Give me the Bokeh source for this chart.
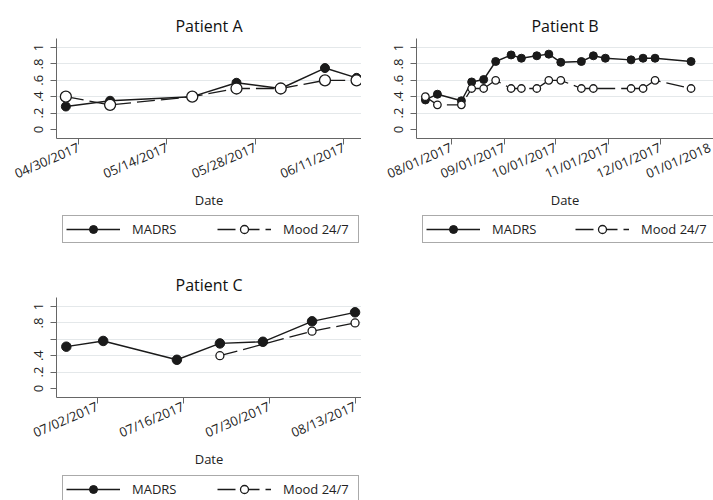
import pandas as pd
from bokeh.plotting import figure
from bokeh.models import (Range1d, FixedTicker, DatetimeTickFormatter, Legend,
                          LegendItem, ColumnDataSource)
from bokeh.layouts import column, row
from bokeh.embed import file_html
from bokeh.resources import INLINE

FONT = "Open Sans"
INK = "#1a1a1a"

# ---------------- data ----------------
# Patient A
a_madrs_dates = ["2017-04-28", "2017-05-05", "2017-05-18", "2017-05-25",
                 "2017-06-01", "2017-06-08", "2017-06-13"]
a_madrs = [0.28, 0.35, 0.40, 0.57, 0.50, 0.75, 0.63]
a_mood_dates = ["2017-04-28", "2017-05-05", "2017-05-18", "2017-05-25",
                "2017-06-01", "2017-06-08", "2017-06-13"]
a_mood = [0.40, 0.30, 0.40, 0.50, 0.50, 0.60, 0.60]
a_ticks = ["2017-04-30", "2017-05-14", "2017-05-28", "2017-06-11"]

# Patient B
b_madrs_dates = ["2017-07-17", "2017-07-24", "2017-08-07", "2017-08-13",
                 "2017-08-20", "2017-08-27", "2017-09-05", "2017-09-11",
                 "2017-09-20", "2017-09-27", "2017-10-04", "2017-10-16",
                 "2017-10-23", "2017-10-30", "2017-11-14", "2017-11-21",
                 "2017-11-28", "2017-12-19"]
b_madrs = [0.36, 0.43, 0.35, 0.58, 0.61, 0.83, 0.91, 0.87, 0.90, 0.92,
           0.82, 0.83, 0.90, 0.87, 0.85, 0.87, 0.87, 0.83]
b_mood_dates = ["2017-07-17", "2017-07-24", "2017-08-07", "2017-08-13",
                "2017-08-20", "2017-08-27", "2017-09-05", "2017-09-11",
                "2017-09-20", "2017-09-27", "2017-10-04", "2017-10-16",
                "2017-10-23", "2017-11-14", "2017-11-21", "2017-11-28",
                "2017-12-19"]
b_mood = [0.40, 0.30, 0.30, 0.50, 0.50, 0.60, 0.50, 0.50, 0.50, 0.60,
          0.60, 0.50, 0.50, 0.50, 0.50, 0.60, 0.50]
b_ticks = ["2017-08-01", "2017-09-01", "2017-10-01", "2017-11-01",
           "2017-12-01", "2018-01-01"]

# Patient C
c_madrs_dates = ["2017-06-27", "2017-07-03", "2017-07-15", "2017-07-22",
                 "2017-07-29", "2017-08-06", "2017-08-13"]
c_madrs = [0.51, 0.58, 0.35, 0.55, 0.57, 0.82, 0.93]
c_mood_dates = ["2017-07-22", "2017-08-06", "2017-08-13"]
c_mood = [0.40, 0.70, 0.80]
c_ticks = ["2017-07-02", "2017-07-16", "2017-07-30", "2017-08-13"]

y_ticks = [0, 0.2, 0.4, 0.6, 0.8, 1]
y_tick_labels = ["0", ".2", ".4", ".6", ".8", "1"]
c_y_tick_labels = ["0", ".2", ".4", "", ".8", "1"]
series_names = ["MADRS", "Mood 24/7"]
x_title = "Date"


def ms(d, shift_days=0.0):
    return (pd.Timestamp(d) + pd.Timedelta(days=shift_days)).value / 1e6


def draw_series(p, src_m, src_o, fsize, osize):
    l1 = p.line("x", "y", source=src_m, line_color=INK, line_width=1.4)
    s1 = p.scatter("x", "y", source=src_m, marker="circle", size=fsize,
                   fill_color=INK, line_color=INK)
    l2 = p.line("x", "y", source=src_o, line_color=INK, line_width=1.3,
                line_dash="18 6")
    s2 = p.scatter("x", "y", source=src_o, marker="circle", size=osize,
                   fill_color="white", line_color=INK, line_width=1.3)
    return l1, s1, l2, s2


def panel(title, md, mv, od, ov, ticks, xr, ylabels, width, height,
          bl, bt, fsize, osize):
    p = figure(width=width, height=height, x_axis_type="datetime",
               x_range=Range1d(*xr), y_range=Range1d(-0.111, 1.111),
               output_backend="svg", toolbar_location=None,
               min_border_left=bl, min_border_right=0,
               min_border_top=bt, min_border_bottom=height - bt - 100,
               title=title)
    p.outline_line_color = None
    p.background_fill_color = "white"
    p.border_fill_color = "white"

    p.title.align = "center"
    p.title.text_font = FONT
    p.title.text_font_style = "normal"
    p.title.text_font_size = "16px"
    p.title.text_color = "#111111"
    p.title.standoff = 4

    p.xgrid.visible = False
    p.ygrid.ticker = FixedTicker(ticks=y_ticks[1:])
    p.ygrid.grid_line_color = "#e4e8ea"
    p.ygrid.grid_line_width = 1

    for ax in (p.xaxis[0], p.yaxis[0]):
        ax.axis_line_color = "#666666"
        ax.major_tick_line_color = "#666666"
        ax.minor_tick_line_color = None
        ax.major_tick_in = 0
        ax.major_tick_out = 6
        ax.major_label_text_font = FONT
        ax.major_label_text_font_size = "13px"
        ax.major_label_text_color = "#222222"

    xa = p.xaxis[0]
    xa.ticker = FixedTicker(ticks=[ms(t) for t in ticks])
    fmt = "%m/%d/%Y"
    xa.formatter = DatetimeTickFormatter(
        microseconds=fmt, milliseconds=fmt, seconds=fmt, minsec=fmt,
        minutes=fmt, hourmin=fmt, hours=fmt, days=fmt, months=fmt, years=fmt)
    xa.major_label_orientation = 0.41
    xa.major_label_standoff = 2
    xa.axis_label = x_title
    xa.axis_label_text_font = FONT
    xa.axis_label_text_font_style = "normal"
    xa.axis_label_text_font_size = "13px"
    xa.axis_label_text_color = "#222222"
    xa.axis_label_standoff = -3

    ya = p.yaxis[0]
    ya.ticker = FixedTicker(ticks=y_ticks)
    ya.major_label_overrides = {t: s for t, s in zip(y_ticks, ylabels)}
    ya.major_label_orientation = "vertical"
    ya.major_label_standoff = 7

    src_m = ColumnDataSource(dict(x=pd.to_datetime(md), y=mv))
    src_o = ColumnDataSource(dict(x=pd.to_datetime(od), y=ov))
    draw_series(p, src_m, src_o, fsize, osize)
    return p


def legend_fig(width, height, lx, ly, lab_w, spacing, fsize, osize):
    f = figure(width=width, height=height, x_range=Range1d(0, 1),
               y_range=Range1d(0, 1), output_backend="svg",
               toolbar_location=None, x_axis_location=None,
               y_axis_location=None, min_border=0)
    f.outline_line_color = None
    f.grid.visible = False
    f.background_fill_color = "white"
    f.border_fill_color = "white"
    # legend key renderers (a single missing point: nothing is drawn)
    key = ColumnDataSource(dict(x=[float("nan")], y=[float("nan")]))
    l1, s1, l2, s2 = draw_series(f, key, key, fsize, osize)
    leg = Legend(items=[LegendItem(label=series_names[0], renderers=[l1, s1]),
                        LegendItem(label=series_names[1], renderers=[l2, s2])],
                 orientation="horizontal", location=(lx, ly))
    leg.label_text_font = FONT
    leg.label_text_font_size = "13px"
    leg.label_text_color = "#222222"
    leg.glyph_width = 54
    leg.glyph_height = 20
    leg.label_height = 20
    leg.label_standoff = 12
    leg.label_width = lab_w
    leg.spacing = spacing
    leg.padding = 3
    leg.margin = 0
    leg.border_line_color = "#555555"
    leg.border_line_width = 1
    leg.background_fill_color = "white"
    leg.background_fill_alpha = 1
    f.add_layout(leg, "center")
    return f


pA = panel("Patient A", a_madrs_dates, a_madrs, a_mood_dates, a_mood, a_ticks,
           (ms("2017-04-30", -3.48), ms("2017-04-30", 44.78)), y_tick_labels,
           361, 212, 56, 38, 9, 11)
lA = legend_fig(361, 38, 6, 7, 72, 13, 8, 9)

pB = panel("Patient B", b_madrs_dates, b_madrs, b_mood_dates, b_mood, b_ticks,
           (ms("2017-08-01", -20.2), ms("2018-01-01", 0.1)), y_tick_labels,
           352, 212, 55, 38, 8, 7.5)
lB = legend_fig(352, 38, 6, 7, 69, 14, 8, 7.5)

pC = panel("Patient C", c_madrs_dates, c_madrs, c_mood_dates, c_mood, c_ticks,
           (ms("2017-07-02", -6.6), ms("2017-07-02", 43.05)), c_y_tick_labels,
           361, 220, 56, 47, 9.5, 8)
lC = legend_fig(361, 30, 6, -3, 72, 13, 8, 7.5)

layout = column(row(column(pA, lA, spacing=0), column(pB, lB, spacing=0),
                    spacing=0),
                column(pC, lC, spacing=0), spacing=0)

open("out.html", "w").write(file_html(layout, INLINE))
